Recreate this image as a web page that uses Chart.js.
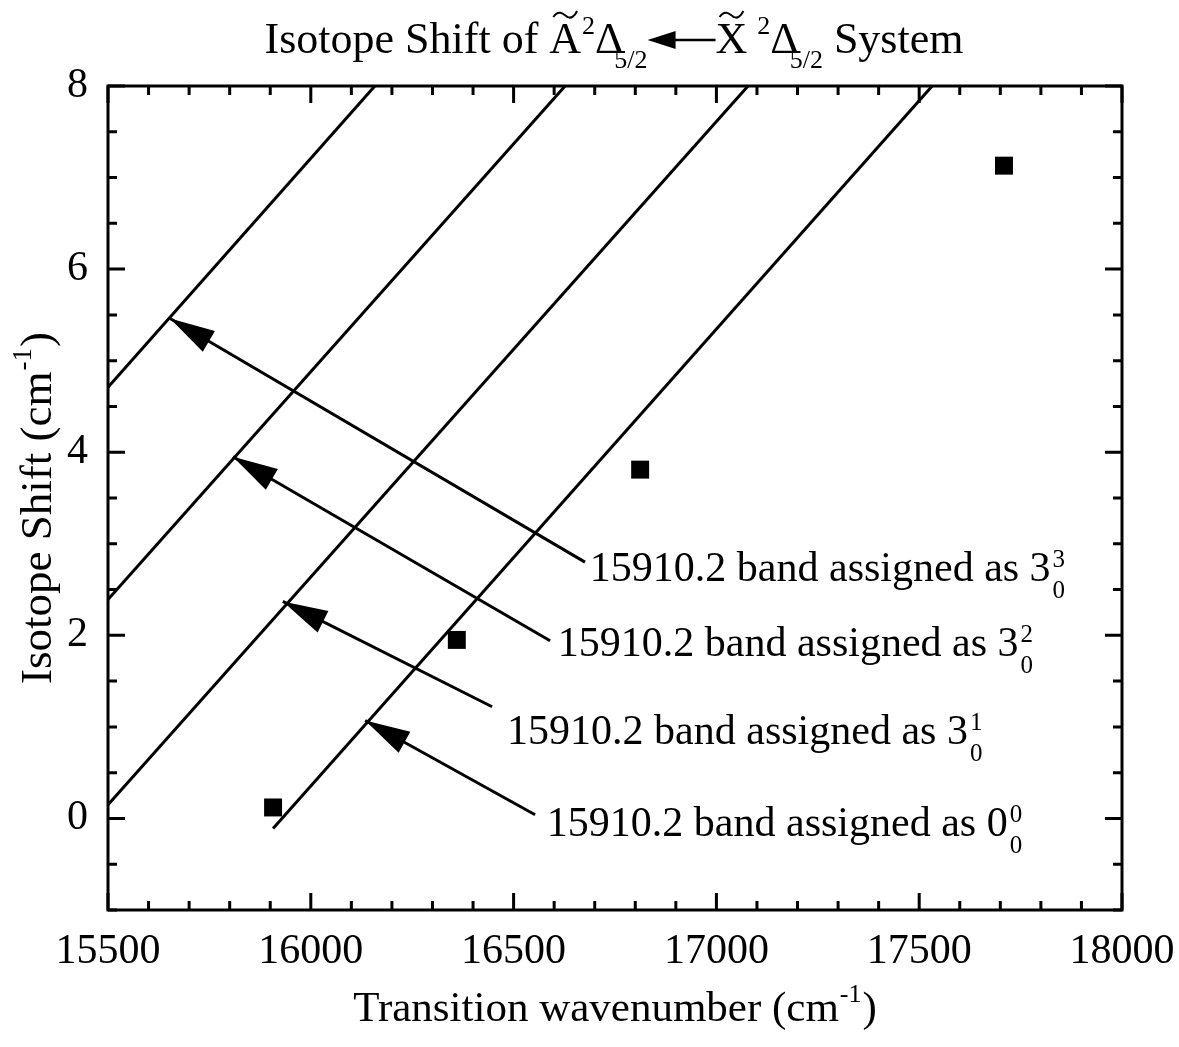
<!DOCTYPE html>
<html>
<head>
<meta charset="utf-8">
<script src="https://cdn.jsdelivr.net/npm/chart.js@4/dist/chart.umd.min.js"></script>
<style>
  html, body { margin: 0; padding: 0; background: #fff; }
  canvas { display: block; }
</style>
</head>
<body>
<canvas id="myChart" width="1179" height="1047"></canvas>
<script>
/* 축 눈금 */
var xTickLabels = [15500, 16000, 16500, 17000, 17500, 18000];
var yTickLabels = [0, 2, 4, 6, 8];

/* 측정값 (사각형 점) */
var pointX = [15907, 16360, 16812, 17709];
var pointY = [0.12, 1.95, 3.81, 7.13];

/* 대각선 4개 */
var line1X = [15907, 17532], line1Y = [-0.11, 8];
var line2X = [15500, 17078], line2Y = [0.15, 8];
var line3X = [15500, 16627], line3Y = [2.39, 8];
var line4X = [15500, 16158], line4Y = [4.71, 8];

/* 화살표 (꼬리 -> 머리) */
var arrowTailX = [16676, 16590, 16447, 16553];
var arrowTailY = [2.80, 1.94, 1.22, 0.04];
var arrowTipX  = [15653, 15808, 15931, 16134];
var arrowTipY  = [5.46, 3.95, 2.37, 1.07];

/* 주석 글자 */
var labelText = ['15910.2 band assigned as 3', '15910.2 band assigned as 3',
                 '15910.2 band assigned as 3', '15910.2 band assigned as 0'];
var labelSup = ['3', '2', '1', '0'];
var labelSub = ['0', '0', '0', '0'];
var labelX = [16688, 16609, 16484, 16582];
var labelY = [2.75, 1.93, 0.97, -0.04];

var FONT = '"Liberation Serif", "Times New Roman", serif';

function toXY(xs, ys) {
	return xs.map(function (v, i) { return { x: v, y: ys[i] }; });
}

function lineSet(xs, ys) {
	return {
		data: toXY(xs, ys),
		showLine: true,
		borderColor: '#000',
		borderWidth: 3,
		pointRadius: 0
	};
}

/* 물결표 */
function tilde(ctx, x, y, w) {
	ctx.beginPath();
	ctx.moveTo(x, y + 3);
	ctx.bezierCurveTo(x + w * 0.25, y - 6, x + w * 0.5, y + 2, x + w * 0.6, y + 3);
	ctx.bezierCurveTo(x + w * 0.75, y + 5, x + w * 0.9, y + 2, x + w, y - 3);
	ctx.lineWidth = 2;
	ctx.stroke();
}

/* 제목 그리기 */
function drawTitle(ctx) {
	var big = '44px ' + FONT, small = '26px ' + FONT;
	var parts = [
		{ t: 'Isotope Shift of ', f: big, dy: 0 },
		{ t: 'A', f: big, dy: 0, tilde: true },
		{ t: '2', f: small, dy: -19, gap: 1 },
		{ t: '\u0394', f: big, dy: 0 },
		{ t: '5/2', f: small, dy: 15, gap: -9 },
		{ arrow: 68 },
		{ t: 'X', f: big, dy: 0, tilde: true },
		{ t: '2', f: small, dy: -19, gap: 10 },
		{ t: '\u0394', f: big, dy: 0 },
		{ t: '5/2', f: small, dy: 15, gap: -9 },
		{ t: ' System', f: big, dy: 0 }
	];
	var total = 0;
	parts.forEach(function (p) {
		if (p.arrow) { p.w = p.arrow; } else { ctx.font = p.f; p.w = ctx.measureText(p.t).width; }
		total += p.w + (p.gap || 0);
	});
	var x = 614 - total / 2, base = 53;
	ctx.fillStyle = '#000';
	ctx.strokeStyle = '#000';
	ctx.textAlign = 'left';
	ctx.textBaseline = 'alphabetic';
	parts.forEach(function (p) {
		x += (p.gap || 0);
		if (p.arrow) {
			var ay = base - 13;
			ctx.beginPath();
			ctx.moveTo(x, ay);
			ctx.lineTo(x + 28, ay - 9);
			ctx.lineTo(x + 28, ay + 9);
			ctx.closePath();
			ctx.fill();
			ctx.beginPath();
			ctx.moveTo(x + 20, ay);
			ctx.lineTo(x + p.w, ay);
			ctx.lineWidth = 2.5;
			ctx.stroke();
		} else {
			ctx.font = p.f;
			ctx.fillText(p.t, x, base + p.dy);
			if (p.tilde) tilde(ctx, x + 4, base - 39, p.w - 8);
		}
		x += p.w;
	});
}

var framePlugin = {
	id: 'frame',
	afterDraw: function (chart) {
		var ctx = chart.ctx;
		var a = chart.chartArea;
		var sx = chart.scales.x, sy = chart.scales.y;
		ctx.save();
		ctx.strokeStyle = '#000';
		ctx.fillStyle = '#000';
		ctx.lineWidth = 3;
		ctx.strokeRect(a.left, a.top, a.right - a.left, a.bottom - a.top);

		/* 안쪽 눈금 */
		var v, p, len;
		ctx.lineWidth = 3;
		for (v = 15500; v <= 18000; v += 100) {
			p = sx.getPixelForValue(v);
			len = (v % 500 === 0) ? 17 : 9;
			ctx.beginPath();
			ctx.moveTo(p, a.bottom); ctx.lineTo(p, a.bottom - len);
			ctx.moveTo(p, a.top); ctx.lineTo(p, a.top + len);
			ctx.stroke();
		}
		for (v = -1; v <= 8; v += 0.5) {
			p = sy.getPixelForValue(v);
			len = (v >= 0 && v % 2 === 0) ? 17 : 9;
			ctx.beginPath();
			ctx.moveTo(a.left, p); ctx.lineTo(a.left + len, p);
			ctx.moveTo(a.right, p); ctx.lineTo(a.right - len, p);
			ctx.stroke();
		}

		/* 화살표 머리 */
		for (var i = 0; i < arrowTipX.length; i++) {
			var tx = sx.getPixelForValue(arrowTipX[i]), ty = sy.getPixelForValue(arrowTipY[i]);
			var bx = sx.getPixelForValue(arrowTailX[i]), by = sy.getPixelForValue(arrowTailY[i]);
			var dx = tx - bx, dy = ty - by, d = Math.sqrt(dx * dx + dy * dy);
			var ux = dx / d, uy = dy / d;
			var L = 45, W = 12;
			ctx.beginPath();
			ctx.moveTo(tx, ty);
			ctx.lineTo(tx - L * ux - W * uy, ty - L * uy + W * ux);
			ctx.lineTo(tx - L * ux + W * uy, ty - L * uy - W * ux);
			ctx.closePath();
			ctx.fill();
		}

		/* 주석 글자 */
		ctx.textAlign = 'left';
		ctx.textBaseline = 'alphabetic';
		for (i = 0; i < labelText.length; i++) {
			var lx = sx.getPixelForValue(labelX[i]);
			var base = sy.getPixelForValue(labelY[i]) + 14;
			ctx.font = '42px ' + FONT;
			ctx.fillText(labelText[i], lx, base);
			var w = ctx.measureText(labelText[i]).width;
			ctx.font = '25px ' + FONT;
			ctx.fillText(labelSup[i], lx + w + 2, base - 14);
			ctx.fillText(labelSub[i], lx + w + 2, base + 17);
		}

		/* x 축 제목 */
		ctx.font = '43px ' + FONT;
		var t1 = 'Transition wavenumber (cm', t2 = ')';
		var w1 = ctx.measureText(t1).width, w2 = ctx.measureText(t2).width;
		ctx.font = '26px ' + FONT;
		var ws = ctx.measureText('-1').width;
		var xs = (a.left + a.right) / 2 - (w1 + ws + w2 + 2) / 2;
		ctx.font = '43px ' + FONT;
		ctx.fillText(t1, xs, 1021);
		ctx.font = '26px ' + FONT;
		ctx.fillText('-1', xs + w1 + 1, 1002);
		ctx.font = '43px ' + FONT;
		ctx.fillText(t2, xs + w1 + ws + 2, 1021);

		/* y 축 제목 */
		ctx.save();
		ctx.translate(51, 508);
		ctx.rotate(-Math.PI / 2);
		t1 = 'Isotope Shift (cm';
		ctx.font = '45px ' + FONT;
		w1 = ctx.measureText(t1).width;
		w2 = ctx.measureText(t2).width;
		ctx.font = '27px ' + FONT;
		ws = ctx.measureText('-1').width;
		xs = -(w1 + ws + w2 + 2) / 2;
		ctx.font = '45px ' + FONT;
		ctx.fillText(t1, xs, 0);
		ctx.font = '27px ' + FONT;
		ctx.fillText('-1', xs + w1 + 1, -20);
		ctx.font = '45px ' + FONT;
		ctx.fillText(t2, xs + w1 + ws + 2, 0);
		ctx.restore();

		drawTitle(ctx);
		ctx.restore();
	}
};

function createChart() {
	var ctx = document.getElementById('myChart').getContext('2d');
	var datasets = [{
		data: toXY(pointX, pointY),
		pointStyle: 'rect',
		pointRadius: 12.7,
		pointBackgroundColor: '#000',
		pointBorderWidth: 0,
		showLine: false
	},
		lineSet(line1X, line1Y),
		lineSet(line2X, line2Y),
		lineSet(line3X, line3Y),
		lineSet(line4X, line4Y)
	];
	for (var i = 0; i < arrowTipX.length; i++) {
		datasets.push(lineSet([arrowTailX[i], arrowTipX[i]], [arrowTailY[i], arrowTipY[i]]));
	}

	new Chart(ctx, {
		type: 'scatter',
		data: { datasets: datasets },
		options: {
			responsive: false,
			animation: false,
			layout: { padding: { top: 86, right: 57, left: 0, bottom: 0 } },
			plugins: { legend: { display: false }, tooltip: { enabled: false } },
			scales: {
				x: {
					type: 'linear',
					min: 15500,
					max: 18000,
					afterBuildTicks: function (s) { s.ticks = xTickLabels.map(function (v) { return { value: v }; }); },
					afterFit: function (s) { s.height = 137; s.paddingLeft = 0; s.paddingRight = 0; },
					grid: { display: false, drawTicks: false },
					border: { display: false },
					ticks: {
						color: '#000', font: { family: FONT, size: 42 }, padding: 17, maxRotation: 0, autoSkip: false,
						callback: function (v) { return String(v); }
					}
				},
				y: {
					type: 'linear',
					min: -1,
					max: 8,
					afterBuildTicks: function (s) { s.ticks = yTickLabels.map(function (v) { return { value: v }; }); },
					afterFit: function (s) { s.width = 108; s.paddingTop = 0; s.paddingBottom = 0; },
					grid: { display: false, drawTicks: false },
					border: { display: false },
					ticks: {
						color: '#000', font: { family: FONT, size: 42 }, padding: 20,
						callback: function (v) { return String(v); }
					}
				}
			}
		},
		plugins: [framePlugin]
	});
}

createChart();
</script>
</body>
</html>
